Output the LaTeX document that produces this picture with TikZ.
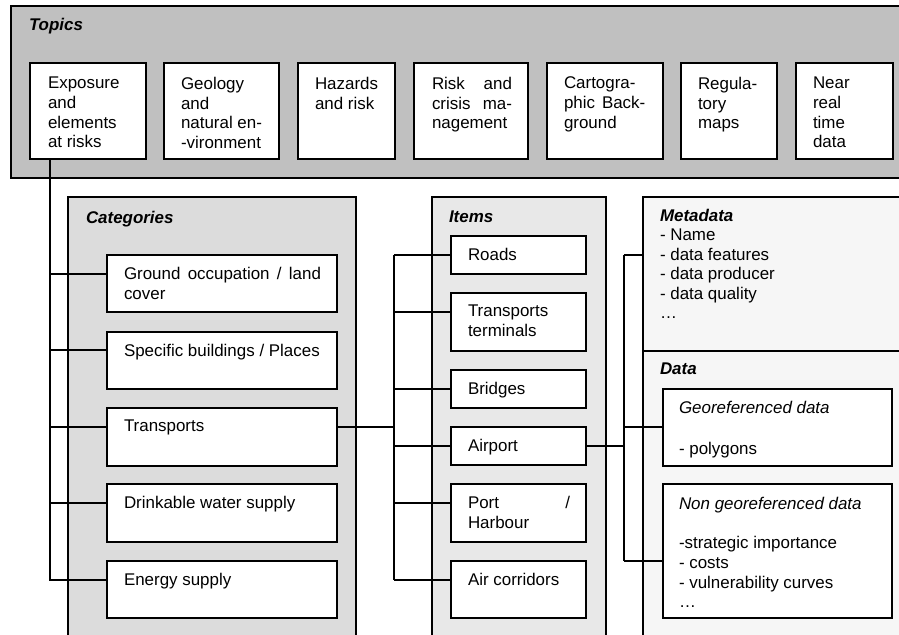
\documentclass[tikz,border=0pt]{standalone}
\usepackage{fontspec}
\setmainfont{Liberation Sans}
\usetikzlibrary{fit}
\definecolor{topicgray}{HTML}{C0C0C0}
\definecolor{catgray}{HTML}{DCDCDC}
\definecolor{itemgray}{HTML}{E8E8E8}
\definecolor{datagray}{HTML}{F6F6F6}
\begin{document}
\begin{tikzpicture}[x=0.75pt,y=-0.75pt,
  panel/.style={draw=black, line width=1.5pt, inner sep=0pt, outer sep=0pt},
  cell/.style={draw=black, fill=white, line width=1.5pt, inner sep=0pt, outer sep=0pt},
  txt/.style={inner sep=0pt, outer sep=0pt, anchor=north west, align=left,
    font=\fontsize{12.7pt}{14.8pt}\selectfont},
  ttl/.style={txt, font=\fontsize{12.7pt}{14.8pt}\selectfont\bfseries\itshape},
  link/.style={draw=black, line width=1.1pt}]

% canvas
\path[clip] (0,0) rectangle (899,635);
\fill[white] (0,0) rectangle (899,635);

% ---------- panels ----------
\node[panel, fill=topicgray, fit={(11,6) (910,178)}] (topics) {};
\node[ttl] at ([shift={(18,12)}]topics.north west) {Topics};

\node[panel, fill=catgray, fit={(68,197) (356,650)}] (cats) {};
\node[ttl] at ([shift={(18,14)}]cats.north west) {Categories};

\node[panel, fill=itemgray, fit={(432,197) (606,650)}] (items) {};
\node[ttl] at ([shift={(17,14)}]items.north west) {Items};

\node[panel, fill=datagray, fit={(643,197) (910,351)}] (meta) {};
\node[txt, font=\fontsize{12.7pt}{14.6pt}\selectfont] at ([shift={(17,12)}]meta.north west)
  {\textbf{\textit{Metadata}}\\- Name\\- data features\\- data producer\\- data quality\\…};

\node[panel, fill=datagray, fit={(643,351) (910,650)}] (data) {};
\node[ttl] at ([shift={(17,12)}]data.north west) {Data};

% ---------- topic boxes ----------
\node[cell, fit={(30,63) (146,159)}] (t1) {};
\node[cell, fit={(164,63) (279,159)}] (t2) {};
\node[cell, fit={(298,63) (395,159)}] (t3) {};
\node[cell, fit={(414,63) (528,159)}] (t4) {};
\node[cell, fit={(547,63) (663,159)}] (t5) {};
\node[cell, fit={(681,63) (777,159)}] (t6) {};
\node[cell, fit={(796,63) (893,159)}] (t7) {};

\node[txt] at ([shift={(18,14)}]t1.north west) {Exposure\\and\\elements\\at risks};
\node[txt] at ([shift={(17,14)}]t2.north west) {Geology\\and\\natural en-\\-vironment};
\node[txt] at ([shift={(17,14)}]t3.north west) {Hazards\\and risk};
\node[txt] at ([shift={(18,14)}]t4.north west)
  {\hbox to 60pt{Risk\hfill and}\\\hbox to 60pt{crisis\hfill ma-}\\nagement};
\node[txt] at ([shift={(17,14)}]t5.north west)
  {Cartogra-\\\hbox to 61pt{phic\hfill Back-}\\ground};
\node[txt] at ([shift={(17,14)}]t6.north west) {Regula-\\tory\\maps};
\node[txt] at ([shift={(17,14)}]t7.north west) {Near\\real\\time\\data};

% bus lines of the three connector trees
\coordinate (busA) at ([shift={(20,0)}]t1.south west);
\coordinate (busB) at (394,0);
\coordinate (busC) at (624,0);

% ---------- connectors ----------
\path (107,274) coordinate (c1p) (107,350) coordinate (c2p) (107,427) coordinate (c3p)
      (107,503) coordinate (c4p) (107,580) coordinate (c5p);
\draw[link] (busA) |- (c5p);
\foreach \p in {c1p,c2p,c3p,c4p} \draw[link] (\p -| busA) -- (\p);

\path (451,255) coordinate (i1p) (451,312) coordinate (i2p) (451,389) coordinate (i3p)
      (451,446) coordinate (i4p) (451,503) coordinate (i5p) (451,580) coordinate (i6p);
\coordinate (c3q) at (337,427);
\draw[link] (i1p -| busB) -- (i6p -| busB);
\foreach \p in {i1p,i2p,i3p,i4p,i5p,i6p} \draw[link] (\p -| busB) -- (\p);
\draw[link] (c3q) -- (c3q -| busB);

\coordinate (metap) at ([shift={(0,58)}]meta.north west);
\coordinate (g1p) at (663,427);
\coordinate (g2p) at (663,561);
\coordinate (i4q) at (586,446);
\draw[link] (metap -| busC) -- (g2p -| busC);
\foreach \p in {metap,g1p,g2p} \draw[link] (\p -| busC) -- (\p);
\draw[link] (i4q) -- (i4q -| busC);

% ---------- category boxes ----------
\node[cell, fit={(107,255) (337,312)}] (c1) {};
\node[cell, fit={(107,332) (337,389)}] (c2) {};
\node[cell, fit={(107,408) (337,466)}] (c3) {};
\node[cell, fit={(107,484) (337,542)}] (c4) {};
\node[cell, fit={(107,561) (337,618)}] (c5) {};
\node[txt] at ([shift={(17,12)}]c1.north west)
  {\hbox to 147.75pt{Ground\hfill occupation\hfill /\hfill land}\\cover};
\node[txt] at ([shift={(17,12)}]c2.north west) {Specific buildings / Places};
\node[txt] at ([shift={(17,12)}]c3.north west) {Transports};
\node[txt] at ([shift={(17,12)}]c4.north west) {Drinkable water supply};
\node[txt] at ([shift={(17,12)}]c5.north west) {Energy supply};

% ---------- item boxes ----------
\node[cell, fit={(451,236) (586,274)}] (i1) {};
\node[cell, fit={(451,293) (586,351)}] (i2) {};
\node[cell, fit={(451,370) (586,408)}] (i3) {};
\node[cell, fit={(451,427) (586,465)}] (i4) {};
\node[cell, fit={(451,484) (586,542)}] (i5) {};
\node[cell, fit={(451,561) (586,618)}] (i6) {};
\node[txt] at ([shift={(17,12)}]i1.north west) {Roads};
\node[txt] at ([shift={(17,12)}]i2.north west) {Transports\\terminals};
\node[txt] at ([shift={(17,12)}]i3.north west) {Bridges};
\node[txt] at ([shift={(17,12)}]i4.north west) {Airport};
\node[txt] at ([shift={(17,12)}]i5.north west) {\hbox to 76.5pt{Port\hfill /}\\Harbour};
\node[txt] at ([shift={(17,12)}]i6.north west) {Air corridors};

% ---------- data boxes ----------
\node[cell, fit={(663,389) (892,466)}] (g1) {};
\node[cell, fit={(663,484) (892,618)}] (g2) {};
\node[txt, font=\fontsize{12.7pt}{15.3pt}\selectfont] at ([shift={(16,12)}]g1.north west)
  {\textit{Georeferenced data}\\\mbox{}\\- polygons};
\node[txt] at ([shift={(16,13)}]g2.north west)
  {\textit{Non georeferenced data}\\\mbox{}\\-strategic importance\\- costs\\- vulnerability curves\\…};
\end{tikzpicture}
\end{document}
